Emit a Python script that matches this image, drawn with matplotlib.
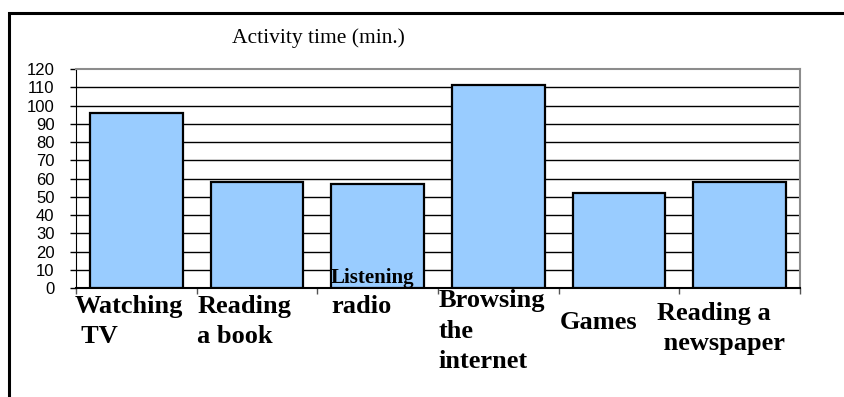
import matplotlib.pyplot as plt
from matplotlib.patches import Rectangle

# data
categories = ['Watching\n TV', 'Reading\na book', 'Listening\nradio',
              'Browsing\nthe\ninternet', 'Games', 'Reading a\n newspaper']
minutes = [96, 58, 57, 111, 52, 58]
yticks = list(range(0, 121, 10))

# where each category label starts (x in category units, top in axes units)
label_x = [-0.51, 0.505, 1.617, 2.502, 3.511, 4.315]
label_top = [-0.030, -0.030, -0.034, -0.006, -0.106, -0.062]

fig = plt.figure(figsize=(8.44, 3.97), dpi=100)
ax = fig.add_axes([76 / 844, 109 / 397, 724 / 844, 219 / 397])

x = range(len(categories))
ax.bar(x, minutes, width=0.767, color='#99CCFF', edgecolor='black',
       linewidth=1.6, zorder=3)

ax.set_xlim(-0.5, len(categories) - 0.5)
ax.set_ylim(0, 120)
ax.set_yticks(yticks)
ax.set_yticklabels([str(v) for v in yticks], family='Liberation Sans', fontsize=12)
ax.set_xticks([i - 0.5 for i in range(len(categories) + 1)])
ax.set_xticklabels([])
ax.tick_params(axis='y', length=4.5, width=1, pad=11)
ax.tick_params(axis='x', length=4.5, width=1, color='#555555')

for v in yticks[1:-1]:
    ax.axhline(v, color='black', linewidth=1, zorder=1)

ax.spines['left'].set_color('black')
ax.spines['bottom'].set_color('black')
ax.spines['bottom'].set_linewidth(1.5)
ax.spines['top'].set_color('#8c8c8c')
ax.spines['right'].set_color('#8c8c8c')
ax.spines['top'].set_linewidth(1.5)
ax.spines['right'].set_linewidth(1.5)

tr = ax.get_xaxis_transform()
for name, lx, ly in zip(categories, label_x, label_top):
    if name.startswith('Listening'):
        first, rest = name.split('\n')
        ax.text(lx - 0.003, 0.0228, first, transform=tr, family='Liberation Serif',
                fontweight='bold', fontsize=15, va='baseline', ha='left', zorder=4)
        name = rest
    ax.text(lx, ly, name, transform=tr, family='Liberation Serif', fontweight='bold',
            fontsize=19, va='top', ha='left', linespacing=1.4, clip_on=False)

fig.text(318 / 844, 1 - 43 / 397, 'Activity time (min.)', family='Liberation Serif',
         fontsize=15.5, ha='center', va='baseline')

# outer frame of the chart area
fig.add_artist(Rectangle((9 / 844, -0.2), 1.2, 1 - 13 / 397 + 0.2, transform=fig.transFigure,
                         fill=False, edgecolor='black', linewidth=2.2))

fig.savefig('out.png', dpi=100)
